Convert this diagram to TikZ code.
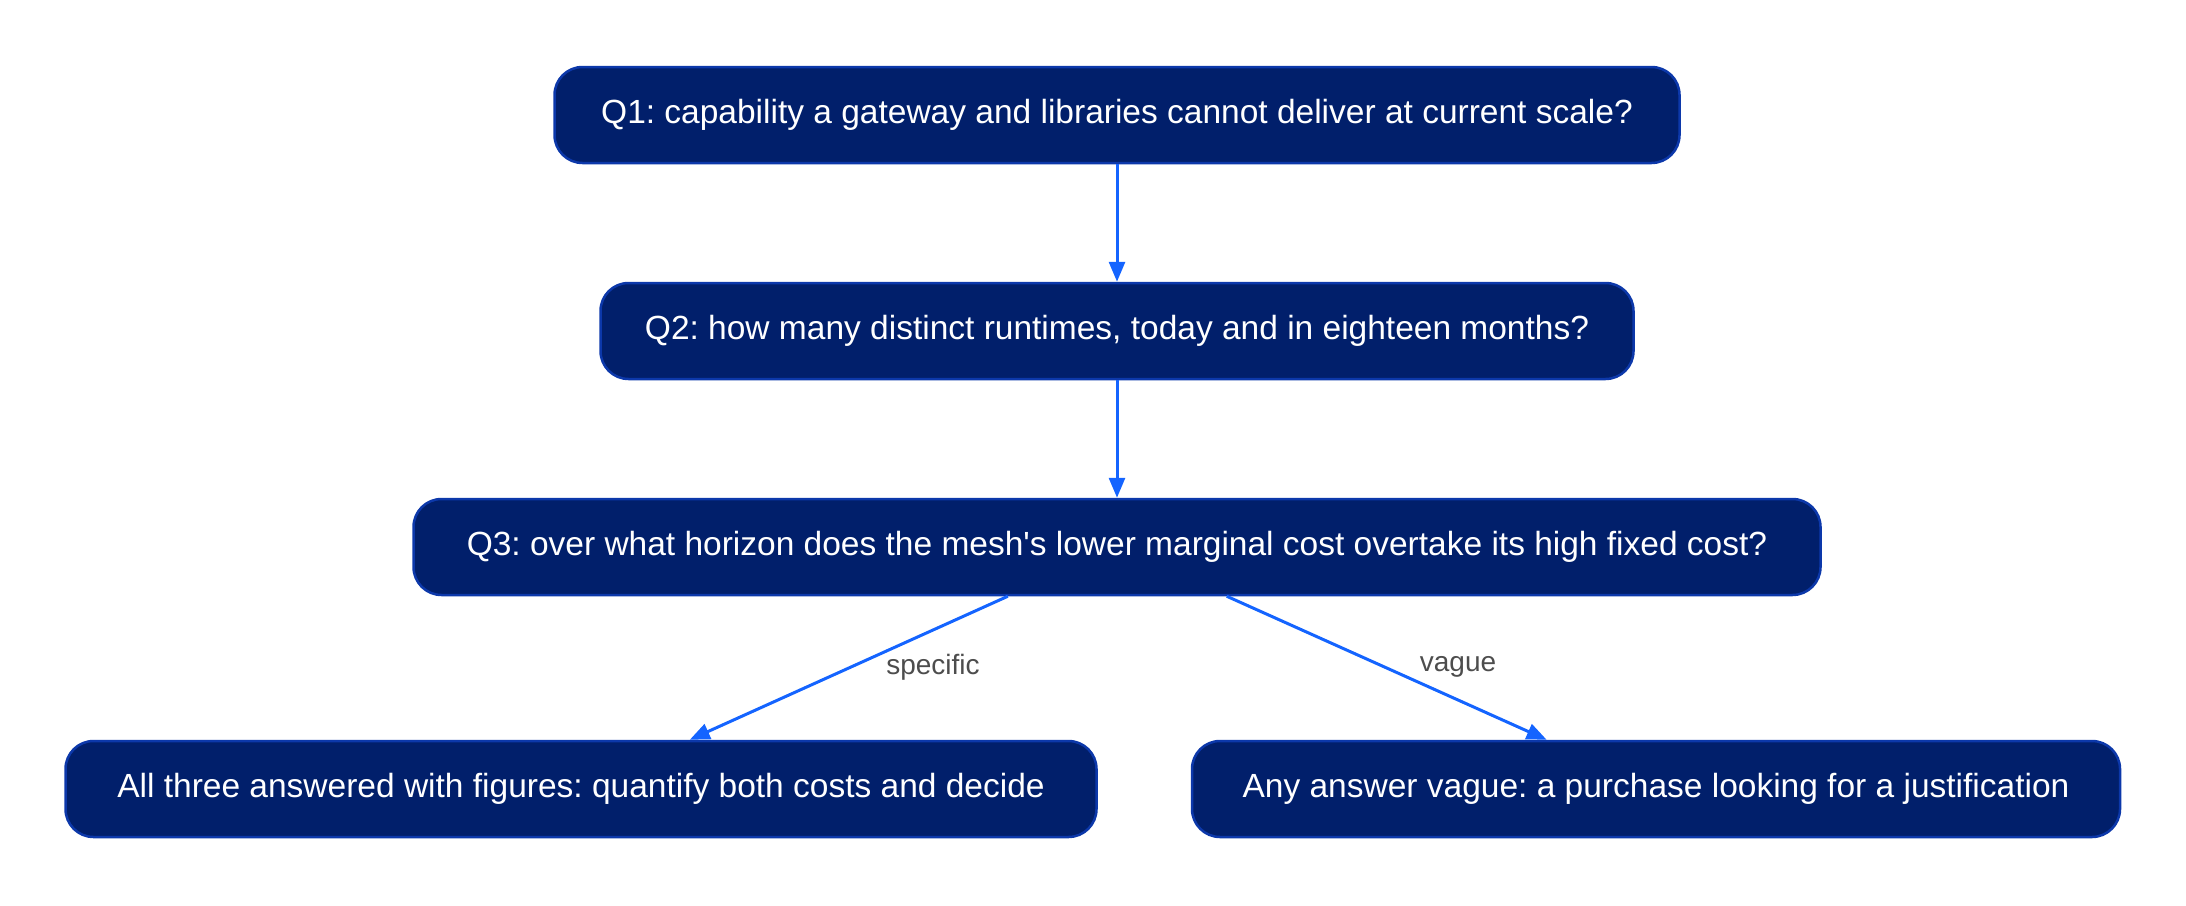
\documentclass[tikz,border=0pt]{standalone}
\usepackage{fontspec}
\newfontfamily\figfont{Liberation Sans}
\usetikzlibrary{arrows.meta}
\definecolor{boxfill}{RGB}{1,31,107}
\definecolor{boxline}{RGB}{12,56,170}
\definecolor{arrowc}{RGB}{20,100,255}
\definecolor{labc}{RGB}{77,77,77}
\frenchspacing
\tikzset{
  qbox/.style={draw=boxline, line width=2.5pt, fill=boxfill, rounded corners=28pt,
    minimum height=96pt, inner sep=0pt, text=white, font=\figfont\fontsize{33.5}{38}\selectfont},
  conn/.style={draw=arrowc, line width=3pt, -{Triangle[length=20pt,width=16pt]}},
  elab/.style={text=labc, font=\figfont\fontsize{28}{32}\selectfont, inner sep=0pt}
}
\begin{document}
\begin{tikzpicture}[x=1pt,y=-1pt]
\useasboundingbox (0,0) rectangle (2186,905);
\node[qbox, minimum width=1125pt] (q1) at (1117,115) {Q1: capability a gateway and libraries cannot deliver at current scale?};
\node[qbox, minimum width=1033pt] (q2) at (1117,331) {Q2: how many distinct runtimes, today and in eighteen months?};
\node[qbox, minimum width=1407pt] (q3) at (1117,547) {Q3: over what horizon does the mesh's lower marginal cost overtake its high fixed cost?};
\node[qbox, minimum width=1031pt] (a) at (581,789) {All three answered with figures: quantify both costs and decide};
\node[qbox, minimum width=928pt] (b) at (1656,789) {Any answer vague: a purchase looking for a justification};
\draw[conn] (q1) -- (q2);
\draw[conn] (q2) -- (q3);
\draw[conn] (q3) -- (a);
\draw[conn] (q3) -- (b);
\node[elab] (ls) at (933,667) {specific};
\node[elab] (lv) at (1458,667) {vague};
\end{tikzpicture}
\end{document}
